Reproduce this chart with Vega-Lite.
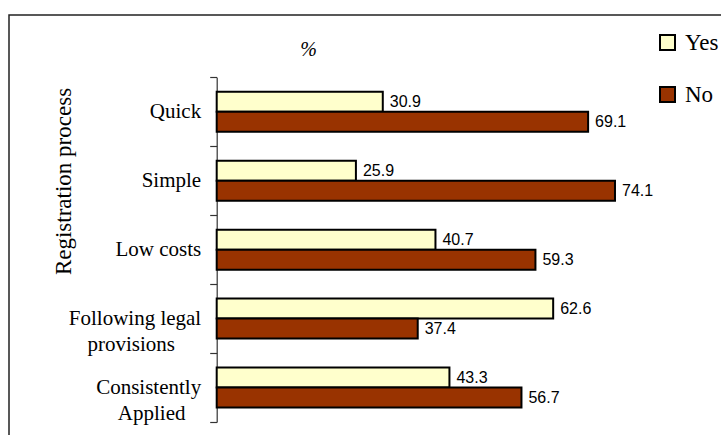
{
  "$schema": "https://vega.github.io/schema/vega-lite/v6.json",
  "autosize": {"type": "none"},
  "width": 722,
  "height": 430,
  "padding": {"left": 9, "top": 15, "right": -10, "bottom": -10},
  "background": "white",
  "config": {"view": {"stroke": "#222222", "strokeWidth": 1.5}},
  "data": {
    "values": [
      {"item": "Quick", "answer": "Yes", "pct": 30.9},
      {"item": "Quick", "answer": "No", "pct": 69.1},
      {"item": "Simple", "answer": "Yes", "pct": 25.9},
      {"item": "Simple", "answer": "No", "pct": 74.1},
      {"item": "Low costs", "answer": "Yes", "pct": 40.7},
      {"item": "Low costs", "answer": "No", "pct": 59.3},
      {"item": "Following legal provisions", "answer": "Yes", "pct": 62.6},
      {"item": "Following legal provisions", "answer": "No", "pct": 37.4},
      {"item": "Consistently Applied", "answer": "Yes", "pct": 43.3},
      {"item": "Consistently Applied", "answer": "No", "pct": 56.7}
    ]
  },
  "encoding": {
    "y": {
      "field": "item",
      "type": "nominal",
      "sort": ["Quick", "Simple", "Low costs", "Following legal provisions", "Consistently Applied"],
      "scale": {"range": [62.3, 407], "paddingInner": 0, "paddingOuter": 0},
      "axis": {
        "title": "Registration process",
        "offset": -207.7,
        "tickBand": "extent",
        "tickSize": 7,
        "tickColor": "#333333",
        "tickWidth": 1.2,
        "domainColor": "#333333",
        "domainWidth": 1.2,
        "grid": false,
        "labelFont": "Liberation Serif",
        "labelFontSize": 21,
        "labelColor": "black",
        "labelPadding": 9,
        "labelLineHeight": 26,
        "labelLimit": 0,
        "labelExpr": "datum.value == 'Following legal provisions' ? ['Following legal', 'provisions\u2002\u2002\u00a0\u200b'] : datum.value == 'Consistently Applied' ? ['Consistently', 'Applied\u2002\u00a0\u200b'] : datum.label",
        "titleFont": "Liberation Serif",
        "titleFontSize": 23,
        "titleFontWeight": "normal",
        "titleColor": "black",
        "titleX": -153,
        "titleY": 166,
        "titleBaseline": "middle"
      }
    },
    "yOffset": {
      "field": "answer",
      "type": "nominal",
      "sort": ["Yes", "No"],
      "scale": {"paddingInner": 0, "paddingOuter": 0.725}
    },
    "x": {
      "field": "pct",
      "type": "quantitative",
      "scale": {"domain": [0, 100], "range": [207.7, 745.2]},
      "axis": {
        "orient": "top",
        "domain": false,
        "ticks": false,
        "labels": false,
        "grid": false,
        "title": "%",
        "titleX": 299,
        "titleY": 34.5,
        "titleBaseline": "middle",
        "titleFont": "Liberation Serif",
        "titleFontStyle": "italic",
        "titleFontWeight": "normal",
        "titleFontSize": 20,
        "titleColor": "black"
      }
    }
  },
  "layer": [
    {
      "mark": {"type": "bar", "stroke": "black", "strokeWidth": 2},
      "encoding": {
        "fill": {
          "field": "answer",
          "type": "nominal",
          "sort": ["Yes", "No"],
          "scale": {"domain": ["Yes", "No"], "range": ["#FFFFCC", "#993300"]},
          "legend": {
            "title": null,
            "orient": "none",
            "legendX": 647,
            "legendY": 16,
            "symbolType": "square",
            "symbolSize": 225,
            "symbolStrokeColor": "black",
            "symbolStrokeWidth": 2,
            "symbolOpacity": 1,
            "labelFont": "Liberation Serif",
            "labelFontSize": 23,
            "labelColor": "black",
            "labelOffset": 6,
            "rowPadding": 28,
            "padding": 0
          }
        }
      }
    },
    {
      "mark": {"type": "text", "align": "left", "baseline": "middle", "dx": 7, "font": "Liberation Sans", "fontSize": 16, "color": "black"},
      "encoding": {
        "text": {"field": "pct", "type": "quantitative", "format": ".1f"}
      }
    }
  ]
}
